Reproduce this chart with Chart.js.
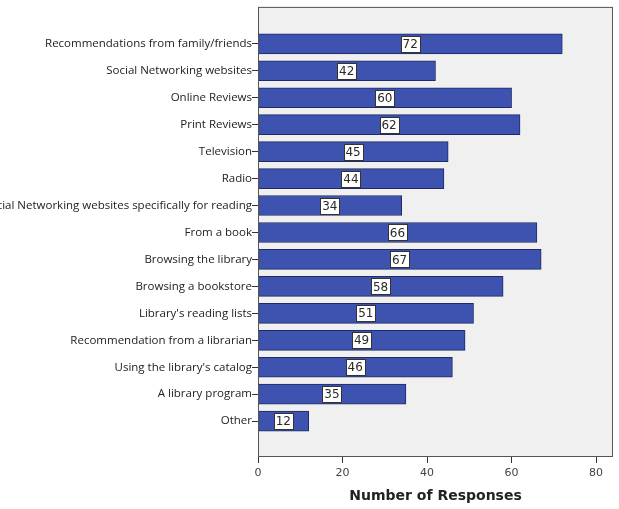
<!DOCTYPE html>
<html>
<head>
<meta charset="utf-8">
<script src="https://cdn.jsdelivr.net/npm/chart.js@4/dist/chart.umd.min.js"></script>
<style>
  html, body { margin: 0; padding: 0; background: #fff; }
  #wrap { width: 619px; height: 509px; }
</style>
</head>
<body>
<div id="wrap"><canvas id="c" width="619" height="509"></canvas></div>
<script>
// categories top to bottom
var categories = [
    'Recommendations from family/friends',
    'Social Networking websites',
    'Online Reviews',
    'Print Reviews',
    'Television',
    'Radio',
    'Social Networking websites specifically for reading',
    'From a book',
    'Browsing the library',
    'Browsing a bookstore',
    "Library's reading lists",
    'Recommendation from a librarian',
    "Using the library's catalog",
    'A library program',
    'Other'
];
var responses = [72, 42, 60, 62, 45, 44, 34, 66, 67, 58, 51, 49, 46, 35, 12];
var xTicks = [0, 20, 40, 60, 80];

var points = responses.map(function (v, i) { return { x: v, y: i }; });

// plot background + frame
var framePlugin = {
    id: 'frame',
    beforeDraw: function (chart) {
        var a = chart.chartArea, ctx = chart.ctx;
        ctx.save();
        ctx.fillStyle = '#f0f0f0';
        ctx.fillRect(a.left, a.top, a.right - a.left, a.bottom - a.top);
        ctx.restore();
    },
    afterDraw: function (chart) {
        var a = chart.chartArea, ctx = chart.ctx;
        ctx.save();
        ctx.strokeStyle = '#555';
        ctx.lineWidth = 1;
        ctx.strokeRect(a.left + 0.5, a.top + 0.5, a.right - a.left - 1, a.bottom - a.top - 1);
        ctx.restore();
    }
};

// white value boxes in the middle of each bar
var valueBoxPlugin = {
    id: 'valueBoxes',
    afterDatasetsDraw: function (chart) {
        var ctx = chart.ctx;
        var xs = chart.scales.x;
        var meta = chart.getDatasetMeta(0);
        ctx.save();
        ctx.font = '12px "DejaVu Sans", sans-serif';
        ctx.textAlign = 'center';
        ctx.textBaseline = 'middle';
        meta.data.forEach(function (bar, i) {
            var v = responses[i];
            var cx = xs.getPixelForValue(v / 2);
            var cy = bar.y;
            var w = Math.round(ctx.measureText(String(v)).width + 4);
            var h = 16;
            var bx = Math.round(cx - w / 2) + 0.5, by = Math.round(cy - h / 2) + 0.5;
            ctx.fillStyle = '#ffffff';
            ctx.fillRect(bx, by, w, h);
            ctx.strokeStyle = '#333';
            ctx.lineWidth = 1;
            ctx.strokeRect(bx, by, w, h);
            ctx.fillStyle = '#2a2a2a';
            ctx.fillText(String(v), cx, cy + 1);
        });
        ctx.restore();
    }
};

new Chart(document.getElementById('c'), {
    type: 'bar',
    data: {
        datasets: [{
            data: points,
            backgroundColor: '#3e52b0',
            borderColor: '#1f2a66',
            borderWidth: 1,
            borderSkipped: false,
            barThickness: 20
        }]
    },
    options: {
        indexAxis: 'y',
        responsive: false,
        animation: false,
        layout: { padding: { top: 5, right: 6 } },
        plugins: {
            legend: { display: false },
            tooltip: { enabled: false }
        },
        scales: {
            x: {
                type: 'linear',
                min: 0,
                max: 84,
                afterBuildTicks: function (s) {
                    s.ticks = xTicks.map(function (v) { return { value: v }; });
                },
                grid: { drawOnChartArea: false, tickLength: 6, color: '#333' },
                border: { display: false },
                ticks: {
                    color: '#444',
                    font: { family: '"DejaVu Sans", sans-serif', size: 11 },
                    padding: 4
                },
                title: {
                    display: true,
                    text: 'Number of Responses',
                    color: '#222',
                    font: { family: '"DejaVu Sans", sans-serif', size: 14, weight: 'bold' },
                    padding: { top: 5 }
                },
                afterFit: function (s) { s.height = 52; }
            },
            y: {
                type: 'linear',
                reverse: true,
                offset: false,
                min: -1.37,
                max: 15.33,
                afterBuildTicks: function (s) {
                    s.ticks = categories.map(function (c, i) { return { value: i }; });
                },
                grid: { drawOnChartArea: false, offset: false, tickLength: 6, color: '#333' },
                border: { display: false },
                ticks: {
                    color: '#222',
                    font: { family: '"Open Sans", sans-serif', size: 11.5 },
                    padding: 0,
                    autoSkip: false,
                    callback: function (v) { return categories[v]; }
                },
                afterFit: function (s) { s.width = 258; }
            }
        }
    },
    plugins: [framePlugin, valueBoxPlugin]
});
</script>
</body>
</html>
